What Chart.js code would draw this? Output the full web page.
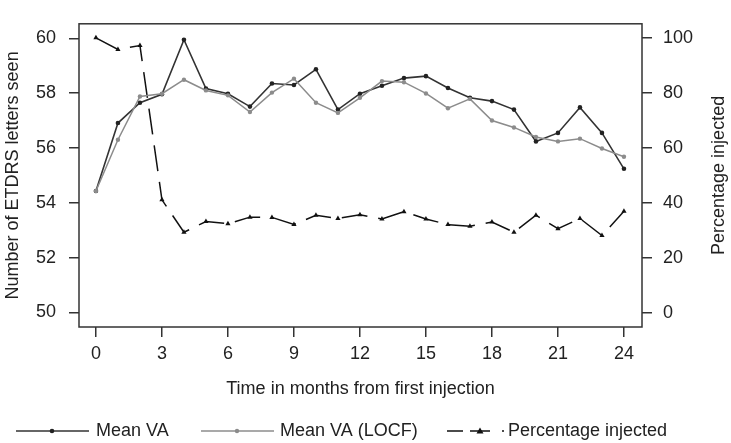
<!DOCTYPE html>
<html>
<head>
<meta charset="utf-8">
<script src="https://cdn.jsdelivr.net/npm/chart.js@4.4.0/dist/chart.umd.min.js"></script>
<style>
  html, body { margin: 0; padding: 0; background: #fff; }
  #wrap { width: 731px; height: 443px; }
</style>
</head>
<body>
<div id="wrap"><canvas id="chart" width="731" height="443"></canvas></div>
<script>
// Data
const months = [0, 1, 2, 3, 4, 5, 6, 7, 8, 9, 10, 11, 12, 13, 14, 15, 16, 17, 18, 19, 20, 21, 22, 23, 24];
const meanVA = [54.43, 56.91, 57.65, 57.96, 59.95, 58.17, 57.98, 57.51, 58.35, 58.30, 58.87, 57.40, 57.98,
    58.27, 58.55, 58.62, 58.19, 57.83, 57.71, 57.40, 56.24, 56.55, 57.48, 56.55, 55.24];
const meanVALocf = [54.43, 56.30, 57.88, 57.98, 58.49, 58.10, 57.92, 57.31, 58.02, 58.53, 57.65, 57.28, 57.83,
    58.44, 58.40, 57.99, 57.45, 57.79, 57.00, 56.75, 56.40, 56.24, 56.34, 55.98, 55.68];
const pctInjected = [100, 95.8, 97.2, 41.1, 29.3, 33.2, 32.4, 34.8, 34.7, 32.1, 35.5, 34.3, 35.7,
    34.1, 36.8, 34.1, 32.1, 31.5, 33.0, 29.3, 35.5, 30.6, 34.3, 28.1, 36.9];

const xTicks = [0, 3, 6, 9, 12, 15, 18, 21, 24];
const leftTicks = [50, 52, 54, 56, 58, 60];
const rightTicks = [0, 20, 40, 60, 80, 100];

const FONT = { family: '"Liberation Sans", Arial, sans-serif', size: 18 };
const INK = '#222';
const AXIS = '#333';

function toPoints(values) {
    return months.map((m, i) => ({ x: m, y: values[i] }));
}

function fixTicks(list) {
    return scale => { scale.ticks = list.map(v => ({ value: v })); };
}

// Box round the plot, like R's box()
const boxPlugin = {
    id: 'box',
    afterDatasetsDraw(chart) {
        const { ctx, chartArea: a } = chart;
        ctx.save();
        ctx.strokeStyle = AXIS;
        ctx.lineWidth = 1.5;
        ctx.strokeRect(a.left, a.top, a.right - a.left, a.bottom - a.top);
        ctx.restore();
    }
};

// Axis titles and the legend row at the bottom
const textPlugin = {
    id: 'texts',
    afterDraw(chart) {
        const { ctx, chartArea: a } = chart;
        const midY = (a.top + a.bottom) / 2;
        ctx.save();
        ctx.fillStyle = INK;
        ctx.font = `${FONT.size}px ${FONT.family}`;
        ctx.textBaseline = 'middle';

        ctx.textAlign = 'center';
        ctx.fillText('Time in months from first injection', (a.left + a.right) / 2, 389);

        ctx.save();
        ctx.translate(13, midY);
        ctx.rotate(-Math.PI / 2);
        ctx.fillText('Number of ETDRS letters seen', 0, 0);
        ctx.restore();

        ctx.save();
        ctx.translate(719, midY);
        ctx.rotate(-Math.PI / 2);
        ctx.fillText('Percentage injected', 0, 0);
        ctx.restore();

        // legend
        const ly = 431;
        ctx.textAlign = 'left';

        ctx.strokeStyle = '#333';
        ctx.lineWidth = 1.6;
        ctx.beginPath(); ctx.moveTo(16, ly); ctx.lineTo(89, ly); ctx.stroke();
        ctx.fillStyle = '#222';
        ctx.beginPath(); ctx.arc(52, ly, 2.3, 0, Math.PI * 2); ctx.fill();
        ctx.fillStyle = INK;
        ctx.fillText('Mean VA', 96, ly);

        ctx.strokeStyle = '#8c8c8c';
        ctx.beginPath(); ctx.moveTo(201, ly); ctx.lineTo(274, ly); ctx.stroke();
        ctx.fillStyle = '#8c8c8c';
        ctx.beginPath(); ctx.arc(237, ly, 2.2, 0, Math.PI * 2); ctx.fill();
        ctx.fillStyle = INK;
        ctx.fillText('Mean VA (LOCF)', 280, ly);

        ctx.strokeStyle = '#111';
        ctx.beginPath();
        ctx.moveTo(447, ly); ctx.lineTo(463, ly);
        ctx.moveTo(470, ly); ctx.lineTo(490, ly);
        ctx.moveTo(502, ly); ctx.lineTo(504, ly);
        ctx.stroke();
        ctx.fillStyle = '#111';
        ctx.beginPath();
        ctx.moveTo(480, ly - 3.5); ctx.lineTo(483.5, ly + 2.5); ctx.lineTo(476.5, ly + 2.5);
        ctx.closePath(); ctx.fill();
        ctx.fillStyle = INK;
        ctx.fillText('Percentage injected', 508, ly);

        ctx.restore();
    }
};

const ctx = document.getElementById('chart').getContext('2d');
new Chart(ctx, {
    type: 'line',
    data: {
        datasets: [
            {
                label: 'Mean VA (LOCF)',
                data: toPoints(meanVALocf),
                yAxisID: 'y',
                borderColor: '#8c8c8c',
                borderWidth: 1.5,
                pointRadius: 2.2,
                pointBackgroundColor: '#8c8c8c',
                pointBorderWidth: 0,
                tension: 0
            },
            {
                label: 'Mean VA',
                data: toPoints(meanVA),
                yAxisID: 'y',
                borderColor: '#333',
                borderWidth: 1.6,
                pointRadius: 2.3,
                pointBackgroundColor: '#222',
                pointBorderWidth: 0,
                tension: 0
            },
            {
                label: 'Percentage injected',
                data: toPoints(pctInjected),
                yAxisID: 'y2',
                borderColor: '#111',
                borderWidth: 1.5,
                borderDash: [26, 11],
                pointStyle: 'triangle',
                pointRadius: 3,
                pointBackgroundColor: '#111',
                pointBorderWidth: 0,
                tension: 0
            }
        ]
    },
    options: {
        responsive: false,
        animation: false,
        layout: { padding: { top: 1, left: 0, right: 0, bottom: 0 } },
        plugins: {
            legend: { display: false },
            tooltip: { enabled: false }
        },
        scales: {
            x: {
                type: 'linear',
                position: 'bottom',
                min: -0.77,
                max: 24.82,
                afterBuildTicks: fixTicks(xTicks),
                afterFit: s => { s.height = 116; },
                ticks: { font: FONT, color: INK, padding: 6, maxRotation: 0 },
                grid: { drawOnChartArea: false, drawTicks: true, tickLength: 10, color: AXIS, lineWidth: 1.5 },
                border: { display: false }
            },
            y: {
                type: 'linear',
                position: 'left',
                min: 49.47,
                max: 60.53,
                afterBuildTicks: fixTicks(leftTicks),
                afterFit: s => { s.width = 79; },
                ticks: { font: FONT, color: INK, padding: 13 },
                grid: { drawOnChartArea: false, drawTicks: true, tickLength: 10, color: AXIS, lineWidth: 1.5 },
                border: { display: false }
            },
            y2: {
                type: 'linear',
                position: 'right',
                min: -5.15,
                max: 105.1,
                afterBuildTicks: fixTicks(rightTicks),
                afterFit: s => { s.width = 89; },
                ticks: { font: FONT, color: INK, padding: 11 },
                grid: { drawOnChartArea: false, drawTicks: true, tickLength: 10, color: AXIS, lineWidth: 1.5 },
                border: { display: false }
            }
        }
    },
    plugins: [boxPlugin, textPlugin]
});
</script>
</body>
</html>
